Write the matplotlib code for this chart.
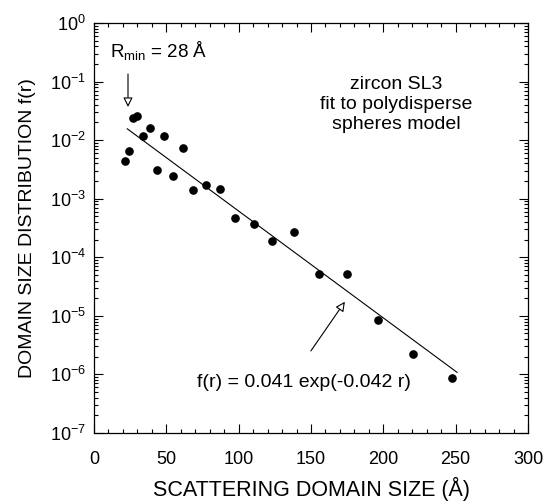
import numpy as np
import matplotlib
matplotlib.use("Agg")
import matplotlib.pyplot as plt
from matplotlib.ticker import MultipleLocator, LogLocator, NullFormatter

plt.rcParams['font.family'] = ['Liberation Sans', 'DejaVu Sans']
plt.rcParams['mathtext.default'] = 'regular'

# data
r = [21.4, 24.0, 27.2, 29.9, 34.1, 38.7, 43.3, 48.4, 54.8, 61.3, 68.6,
     77.4, 86.9, 97.4, 110.6, 123.2, 138.4, 155.5, 174.6, 196.1, 220.7, 247.6]
f = [4.4e-3, 6.4e-3, 2.36e-2, 2.6e-2, 1.18e-2, 1.59e-2, 3.1e-3, 1.19e-2,
     2.4e-3, 7.3e-3, 1.41e-3, 1.69e-3, 1.48e-3, 4.6e-4, 3.7e-4, 1.87e-4,
     2.7e-4, 5.2e-5, 5.2e-5, 8.4e-6, 2.2e-6, 8.7e-7]

# fit f(r) = A exp(-k r)
fit_A = 0.041
fit_k = 0.042
fit_rmin = 23
fit_rmax = 251

fig = plt.figure(figsize=(5.44, 5.04), dpi=100)
ax = fig.add_axes([0.1728, 0.1409, 0.7978, 0.8135])

rr = np.linspace(fit_rmin, fit_rmax, 200)
ax.plot(rr, fit_A * np.exp(-fit_k * rr), color='black', lw=0.8)
ax.plot(r, f, 'o', color='black', markersize=5.2)

ax.set_yscale('log')
ax.set_xlim(0, 300)
ax.set_ylim(1e-7, 1e0)

ax.xaxis.set_major_locator(MultipleLocator(50))
ax.xaxis.set_minor_locator(MultipleLocator(10))
ax.yaxis.set_major_locator(LogLocator(base=10, numticks=10))
ax.yaxis.set_minor_locator(LogLocator(base=10, subs=np.arange(2, 10), numticks=10))
ax.yaxis.set_minor_formatter(NullFormatter())

ax.tick_params(which='both', direction='in', top=True, right=True, labelsize=13)
ax.tick_params(which='major', length=6.5, width=0.8)
ax.tick_params(which='minor', length=2.8, width=0.8)
ax.tick_params(axis='x', pad=13)
ax.tick_params(axis='y', pad=6)
for s in ax.spines.values():
    s.set_linewidth(0.9)

ax.set_xlabel('SCATTERING DOMAIN SIZE (Å)', fontsize=15.5, labelpad=6)
ax.set_ylabel('DOMAIN SIZE DISTRIBUTION f(r)', fontsize=14, labelpad=10)

# R_min annotation
ax.text(11, 0.266, 'R$_{min}$ = 28 Å', fontsize=13.5, va='baseline')
ax.annotate('', xy=(23.5, 0.033), xytext=(23.5, 0.15),
            arrowprops=dict(arrowstyle='-|>', fc='white', ec='black',
                            lw=0.8, mutation_scale=14))

# baseline here is the last line's
ax.text(209, 0.0153, 'zircon SL3\nfit to polydisperse\nspheres model',
        fontsize=14, ha='center', va='baseline', linespacing=1.26)

ax.annotate('', xy=(174.5, 1.9e-5), xytext=(148.8, 2.3e-6),
            arrowprops=dict(arrowstyle='-|>', fc='white', ec='black',
                            lw=0.8, mutation_scale=14))
ax.text(71.5, 6.2e-7, 'f(r) = 0.041 exp(-0.042 r)', fontsize=14, va='baseline')

fig.savefig('out.png', dpi=100)
